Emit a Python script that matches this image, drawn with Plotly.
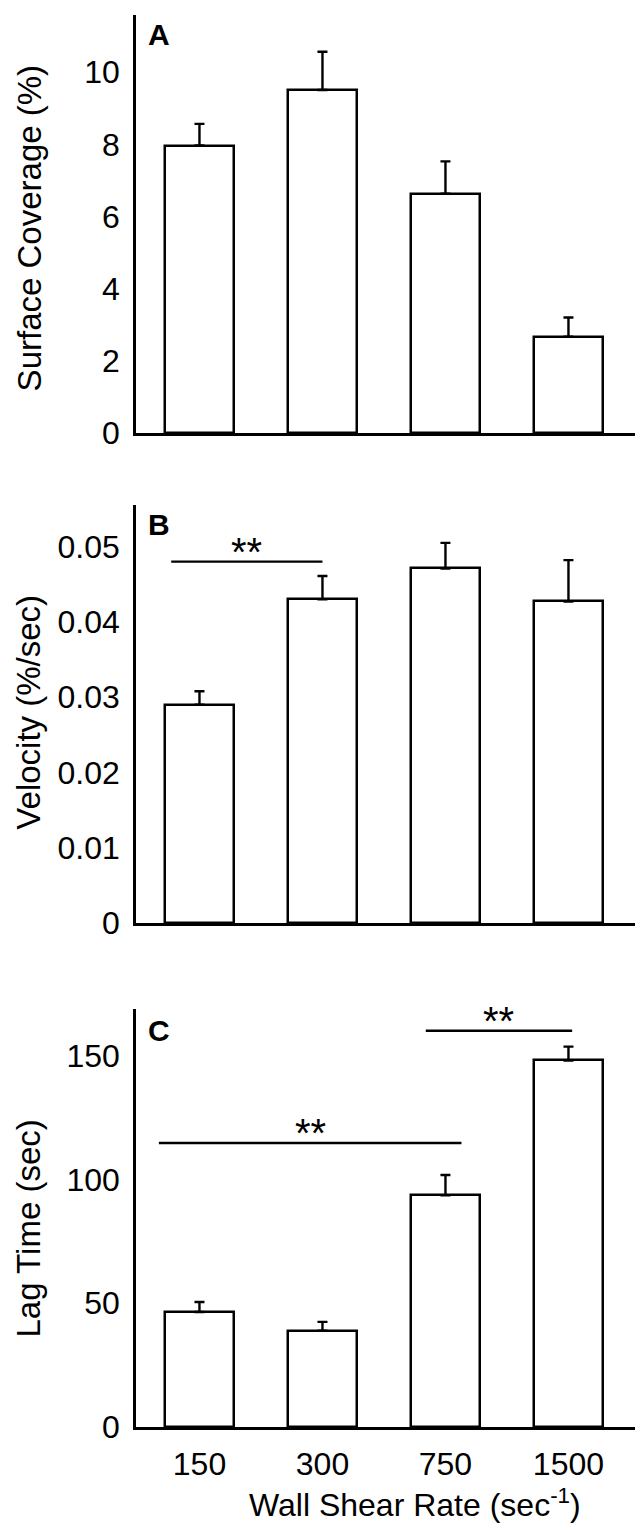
import plotly.graph_objects as go

# ---------------- data ----------------
categories = ["150", "300", "750", "1500"]
cat_pos = [0, 1, 2, 3]

coverage = [7.97, 9.51, 6.63, 2.67]
coverage_err = [0.60, 1.06, 0.90, 0.53]

velocity = [0.0290, 0.0430, 0.0471, 0.0427]
velocity_err = [0.0018, 0.0031, 0.0034, 0.0055]

lag_time = [46.5, 38.9, 93.6, 148.0]
lag_time_err = [4.0, 3.6, 8.2, 5.6]

panel_letters = ["A", "B", "C"]
y_titles = ["Surface Coverage (%)", "Velocity (%/sec)", "Lag Time (sec)"]
y_tickvals = [[0, 2, 4, 6, 8, 10],
              [0, 0.01, 0.02, 0.03, 0.04, 0.05],
              [0, 50, 100, 150]]
y_ticktext = [["0", "2", "4", "6", "8", "10"],
              ["0", "0.01", "0.02", "0.03", "0.04", "0.05"],
              ["0", "50", "100", "150"]]
y_max = [11.59, 0.05551, 168.75]
x_title = "Wall Shear Rate (sec<sup>-1</sup>)"

# significance brackets
sig_panel = [1, 2, 2]
sig_x0 = [-0.23, -0.33, 1.84]
sig_x1 = [1.00, 2.13, 3.03]
sig_y = [0.0480, 114.7, 160.0]
sig_text = ["**", "**", "**"]

# ---------------- layout geometry ----------------
W, H = 643, 1534
x_dom = [128 / W, 635 / W]
y_px = [(7, 430), (503, 926), (1013, 1436)]  # top, bottom of each panel
y_doms = [[1 - b / H, 1 - t / H] for t, b in y_px]
x_range = [-0.516, 3.606]

FONT = "Arial, Liberation Sans, Helvetica, sans-serif"

fig = go.Figure()
series = [(coverage, coverage_err), (velocity, velocity_err), (lag_time, lag_time_err)]
for i, (vals, errs) in enumerate(series):
    sfx = "" if i == 0 else str(i + 1)
    fig.add_trace(go.Bar(
        x=cat_pos, y=vals, width=0.56,
        marker=dict(color="white", line=dict(color="black", width=2.5)),
        error_y=dict(type="data", array=errs, arrayminus=[0] * len(errs),
                     symmetric=False, color="black", thickness=2.4, width=5),
        xaxis="x" + sfx, yaxis="y" + sfx, showlegend=False,
    ))

for k in range(len(sig_panel)):
    p = sig_panel[k]
    sfx = "" if p == 0 else str(p + 1)
    fig.add_trace(go.Scatter(
        x=[sig_x0[k], sig_x1[k]], y=[sig_y[k], sig_y[k]], mode="lines",
        line=dict(color="black", width=2.4), xaxis="x" + sfx, yaxis="y" + sfx,
        showlegend=False, hoverinfo="skip",
    ))
    fig.add_annotation(
        x=(sig_x0[k] + sig_x1[k]) / 2, y=sig_y[k], xref="x" + sfx, yref="y" + sfx,
        text=sig_text[k], showarrow=False, yanchor="bottom", yshift=-14,
        font=dict(family=FONT, size=40, color="black"),
    )

layout = dict(
    width=W, height=H, margin=dict(l=0, r=0, t=0, b=0),
    paper_bgcolor="white", plot_bgcolor="white",
    font=dict(family=FONT, size=32, color="black"),
    bargap=0.0,
)
for i in range(3):
    sfx = "" if i == 0 else str(i + 1)
    layout["xaxis" + sfx] = dict(
        domain=x_dom, range=x_range, anchor="y" + sfx,
        tickvals=cat_pos, ticktext=categories,
        showticklabels=(i == 2), ticks="outside", ticklen=7,
        tickcolor="rgba(0,0,0,0)",
        showline=True, linecolor="black", linewidth=2.5,
        showgrid=False, zeroline=False, fixedrange=True,
        tickfont=dict(family=FONT, size=32, color="black"),
    )
    layout["yaxis" + sfx] = dict(
        domain=y_doms[i], range=[0, y_max[i]], anchor="x" + sfx,
        tickvals=y_tickvals[i], ticktext=y_ticktext[i],
        ticks="outside", ticklen=7, tickcolor="rgba(0,0,0,0)",
        showline=True, linecolor="black", linewidth=2.5,
        showgrid=False, zeroline=False, fixedrange=True,
        tickfont=dict(family=FONT, size=32, color="black"),
    )
fig.update_layout(**layout)

# y titles
title_centers = [223, 713, 1235]
for i in range(3):
    fig.add_annotation(
        x=21 / W, y=1 - title_centers[i] / H, xref="paper", yref="paper",
        text=y_titles[i], textangle=-90, showarrow=False,
        xanchor="center", yanchor="middle",
        font=dict(family=FONT, size=33, color="black"),
    )

# panel letters
letter_y = [27, 523, 1035]
for i in range(3):
    fig.add_annotation(
        x=151 / W, y=1 - letter_y[i] / H, xref="paper", yref="paper",
        text="<b>" + panel_letters[i] + "</b>", showarrow=False,
        xanchor="center", yanchor="middle",
        font=dict(family=FONT, size=30, color="black"),
    )

# x title
fig.add_annotation(
    x=407 / W, y=1 - 1513 / H, xref="paper", yref="paper",
    text=x_title, showarrow=False, xanchor="center", yanchor="middle",
    font=dict(family=FONT, size=32, color="black"),
)

fig.write_html("out.html")
